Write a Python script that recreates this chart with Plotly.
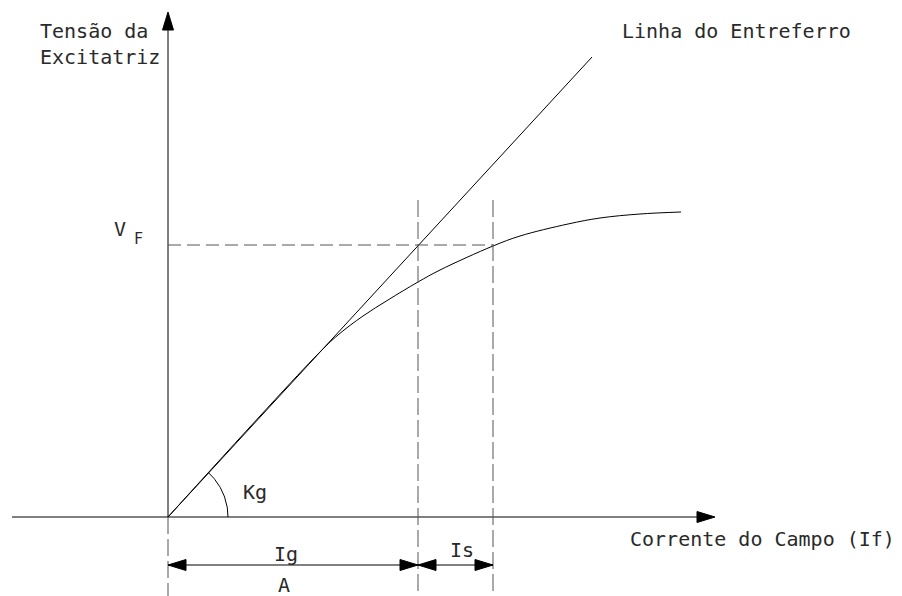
import numpy as np
import plotly.graph_objects as go

# ---- data (diagram units: 1 unit = 1 px, origin at axes crossing) ----
air_gap_x = [0, 424]
air_gap_y = [0, 460]
sat_x = [0, 149, 170, 195, 220, 250, 272, 325, 352, 400, 432, 472, 513]
sat_y = [0, 162, 182, 201, 217, 235, 247, 271, 281, 293, 299, 303, 305]
V_F = 272
I_g = 250
I_s = 75
x_axis_span = [-156, 547]
y_axis_span = [0, 505]
dash_top = 317
dim_y = -48
kg_radius = 60

FONT = "DejaVu Sans Mono"
BLACK = "#000000"
GRAY = "#555555"

fig = go.Figure()

def line(xs, ys, color=BLACK, dash=None, shape="linear"):
    fig.add_trace(go.Scatter(x=xs, y=ys, mode="lines",
                             line=dict(color=color, width=1, dash=dash, shape=shape),
                             hoverinfo="skip", showlegend=False))

def head(tx, ty, dx, dy, length=18, half=5.5):
    # filled triangle with tip at (tx,ty) pointing along (dx,dy)
    n = np.hypot(dx, dy)
    ux, uy = dx / n, dy / n
    bx, by = tx - ux * length, ty - uy * length
    px, py = -uy * half, ux * half
    fig.add_trace(go.Scatter(x=[tx, bx + px, bx - px, tx], y=[ty, by + py, by - py, ty],
                             mode="lines", fill="toself", fillcolor=BLACK,
                             line=dict(color=BLACK, width=1),
                             hoverinfo="skip", showlegend=False))

# axes
line([x_axis_span[0], x_axis_span[1] - 18], [0, 0])
head(x_axis_span[1], 0, 1, 0)
line([0, 0], [0, y_axis_span[1] - 18])
head(0, y_axis_span[1], 0, 1)

# air-gap line and saturation curve
line(air_gap_x, air_gap_y)
line(sat_x, sat_y, shape="spline")

# dashed construction lines
H_DASH = "13px,6px"
V_DASH = "17px,5px"
bottom = -79
line([0, I_g + I_s], [V_F, V_F], color=GRAY, dash=H_DASH)
line([I_g, I_g], [dash_top, bottom], color=GRAY, dash=V_DASH)
line([I_g + I_s, I_g + I_s], [dash_top, bottom], color=GRAY, dash=V_DASH)
line([0, 0], [0, bottom], color=GRAY, dash=V_DASH)

# dimension arrows
line([0, I_g], [dim_y, dim_y])
head(0, dim_y, -1, 0)
head(I_g, dim_y, 1, 0)
line([I_g, I_g + I_s], [dim_y, dim_y])
head(I_g, dim_y, -1, 0)
head(I_g + I_s, dim_y, 1, 0)

# angle arc Kg
ang = np.arctan2(air_gap_y[1], air_gap_x[1])
t = np.linspace(0, ang, 40)
line(kg_radius * np.cos(t), kg_radius * np.sin(t))

def label(text, x, y, size=20, xanchor="left"):
    fig.add_annotation(x=x, y=y, text=text, showarrow=False, xanchor=xanchor, yanchor="top",
                       font=dict(family=FONT, size=size, color="#2a2a2a"), align="left")

label("Tensão da<br>Excitatriz", -130, 500)
label("Linha do Entreferro", 452, 500)
label("Corrente do Campo (If)", 460, -8)
label("V", -56, 302)
label("F", -36, 289, size=15)
label("Kg", 73, 39)
label("Ig", 104, -23)
label("Is", 280, -19)
label("A", 108, -54)

fig.update_layout(width=902, height=596, margin=dict(l=0, r=0, t=0, b=0),
                  paper_bgcolor="white", plot_bgcolor="white",
                  xaxis=dict(range=[-168, 734], visible=False, fixedrange=True),
                  yaxis=dict(range=[-79, 517], visible=False, fixedrange=True),
                  showlegend=False)

fig.write_html("out.html", config={"displayModeBar": False, "staticPlot": True},
               post_script="document.body.style.margin='0';document.body.style.overflow='hidden';")
